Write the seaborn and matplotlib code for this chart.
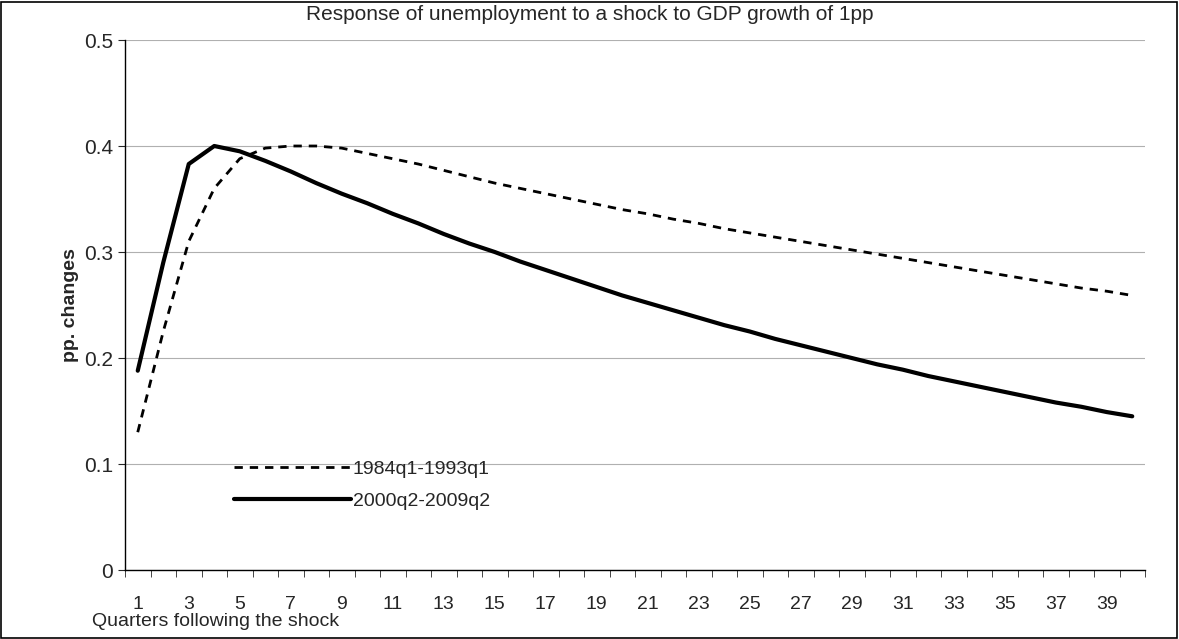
import matplotlib
matplotlib.use("Agg")
import matplotlib.pyplot as plt
import seaborn as sns
import pandas as pd
from matplotlib.ticker import FixedLocator
from matplotlib.patches import Rectangle

quarters = list(range(1, 41))
early = [0.13, 0.225, 0.31, 0.36, 0.388, 0.398, 0.4, 0.4, 0.398, 0.393,
         0.388, 0.383, 0.377, 0.371, 0.365, 0.36, 0.355, 0.35, 0.345, 0.34,
         0.336, 0.331, 0.327, 0.322, 0.318, 0.314, 0.31, 0.306, 0.302, 0.298,
         0.294, 0.29, 0.286, 0.282, 0.278, 0.274, 0.27, 0.266, 0.263, 0.259]
late = [0.188, 0.29, 0.383, 0.4, 0.395, 0.386, 0.376, 0.365, 0.355, 0.346,
        0.336, 0.327, 0.317, 0.308, 0.3, 0.291, 0.283, 0.275, 0.267, 0.259,
        0.252, 0.245, 0.238, 0.231, 0.225, 0.218, 0.212, 0.206, 0.2, 0.194,
        0.189, 0.183, 0.178, 0.173, 0.168, 0.163, 0.158, 0.154, 0.149, 0.145]

df = pd.DataFrame({"q": quarters, "1984q1-1993q1": early, "2000q2-2009q2": late})

sns.set_style("white")
plt.rcParams['font.family'] = ['Liberation Sans', 'DejaVu Sans']

fig = plt.figure(figsize=(11.79, 6.39), dpi=100)
ax = fig.add_axes([125/1179, 69/639, 1020/1179, 530/639])

sns.lineplot(data=df, x="q", y="1984q1-1993q1", ax=ax, color="black",
             lw=2, linestyle=(0, (3, 2.5)), label="1984q1-1993q1")
sns.lineplot(data=df, x="q", y="2000q2-2009q2", ax=ax, color="black",
             lw=3, label="2000q2-2009q2")

ax.set_xlim(0.5, 40.5)
ax.set_ylim(0, 0.5)
ax.set_yticks([0, 0.1, 0.2, 0.3, 0.4, 0.5])
ax.set_yticklabels(["0", "0.1", "0.2", "0.3", "0.4", "0.5"], fontsize=15)
ax.set_xticks(list(range(1, 41, 2)))
ax.set_xticklabels([str(i) for i in range(1, 41, 2)], fontsize=14)
ax.xaxis.set_minor_locator(FixedLocator([i + 0.5 for i in range(0, 41)]))
ax.tick_params(axis="x", which="major", length=0, pad=19)
ax.tick_params(axis="x", which="minor", length=5, direction="out", bottom=True)
ax.tick_params(axis="y", length=5, direction="out", left=True)
ax.grid(axis="y", color="#b0b0b0", lw=0.8)
for s in ["top", "right"]:
    ax.spines[s].set_visible(False)
for s in ["left", "bottom"]:
    ax.spines[s].set_color("black")
    ax.spines[s].set_linewidth(1)

ax.set_xlabel("")
ax.set_ylabel("pp. changes", fontsize=14, fontweight="bold")
fig.text(92/1179, 1 - 622/639, "Quarters following the shock", fontsize=14, va="center")
fig.text(0.5, 1 - 15/639, "Response of unemployment to a shock to GDP growth of 1pp",
         fontsize=15, ha="center", va="center")

ax.legend(loc="upper left", bbox_to_anchor=(0.09, 0.24), frameon=False,
          fontsize=14, handlelength=6, handletextpad=0.1, labelspacing=0.75)

fig.patches.append(Rectangle((1/1179, 1/639), 1 - 3/1179, 1 - 3/639,
                             transform=fig.transFigure, fill=False,
                             edgecolor="black", lw=1.2))
fig.savefig("out.png", dpi=100)
